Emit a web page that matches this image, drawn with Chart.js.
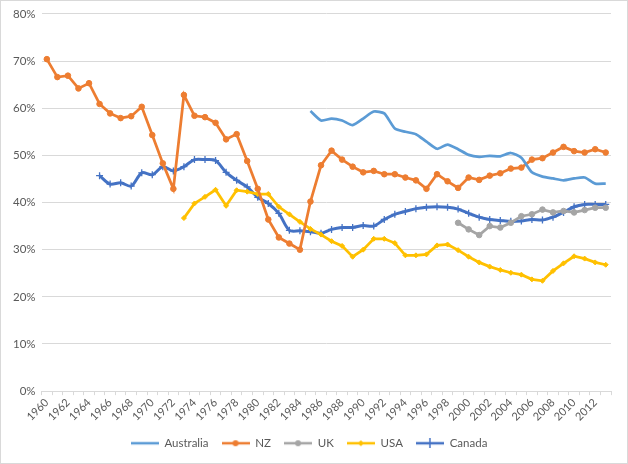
<!DOCTYPE html>
<html>
<head>
<meta charset="utf-8">
<script src="https://cdn.jsdelivr.net/npm/chart.js@4.4.1/dist/chart.umd.min.js"></script>
<style>
  body { margin: 0; background: #fff; }
  #wrap { width: 626px; height: 462px; border: 1px solid #d9d9d9; position: relative; }
</style>
</head>
<body>
<div id="wrap"><canvas id="myChart" width="626" height="462"></canvas></div>
<script>
const years = []
for (let y = 1960; y <= 2013; y++) years.push(String(y))

const australia = [
  null, null, null, null, null, null, null, null, null, null,
  null, null, null, null, null, null, null, null, null, null,
  null, null, null, null, null,
  59.4, 57.4, 57.8, 57.4, 56.4, 57.8, 59.3, 58.9, 55.7, 55.0,
  54.5, 52.9, 51.4, 52.3, 51.3, 50.1, 49.7, 49.9, 49.8, 50.5,
  49.5, 46.4, 45.5, 45.1, 44.7, 45.1, 45.3, 44.0, 44.0
]
const nz = [
  70.4, 66.6, 66.9, 64.2, 65.3, 60.9, 58.9, 57.9, 58.3, 60.3,
  54.3, 48.3, 42.9, 62.8, 58.4, 58.1, 56.9, 53.4, 54.5, 48.8,
  42.9, 36.4, 32.6, 31.3, 30.0, 40.2, 47.9, 51.0, 49.1, 47.6,
  46.4, 46.7, 46.0, 46.0, 45.3, 44.7, 42.9, 46.0, 44.5, 43.1,
  45.3, 44.8, 45.7, 46.2, 47.2, 47.4, 49.1, 49.4, 50.6, 51.8,
  50.9, 50.6, 51.3, 50.6
]
const uk = [
  null, null, null, null, null, null, null, null, null, null,
  null, null, null, null, null, null, null, null, null, null,
  null, null, null, null, null, null, null, null, null, null,
  null, null, null, null, null, null, null, null, null,
  35.7, 34.3, 33.1, 35.0, 34.7, 35.7, 37.1, 37.5, 38.5, 37.9,
  38.2, 37.9, 38.4, 38.9, 38.9
]
const usa = [
  null, null, null, null, null, null, null, null, null, null,
  null, null, null,
  36.7, 39.8, 41.2, 42.7, 39.3, 42.6, 42.3, 41.8, 41.8, 39.1,
  37.5, 35.9, 34.4, 33.2, 31.8, 30.8, 28.5, 30.0, 32.3, 32.3,
  31.4, 28.8, 28.8, 29.0, 30.9, 31.1, 29.9, 28.5, 27.3, 26.4,
  25.7, 25.1, 24.7, 23.7, 23.4, 25.5, 27.1, 28.6, 28.1, 27.3, 26.8
]
const canada = [
  null, null, null, null, null,
  45.7, 43.9, 44.2, 43.5, 46.3, 45.9, 47.6, 46.7, 47.6, 49.1,
  49.1, 48.9, 46.4, 44.7, 43.3, 41.1, 39.8, 37.7, 34.1, 34.0,
  33.8, 33.5, 34.3, 34.7, 34.7, 35.1, 35.0, 36.4, 37.5, 38.1,
  38.7, 39.0, 39.1, 39.0, 38.6, 37.7, 36.9, 36.4, 36.2, 36.0,
  36.1, 36.4, 36.3, 36.9, 37.9, 39.1, 39.6, 39.6, 39.6
]

const yTicks = [0, 10, 20, 30, 40, 50, 60, 70, 80]

const blueLight = '#5B9BD5'
const orange = '#ED7D31'
const grey = '#A5A5A5'
const yellow = '#FFC000'
const blue = '#4472C4'

// little legend swatches: line with marker in the middle
function swatch(color, marker) {
  const c = document.createElement('canvas')
  c.width = 28
  c.height = 10
  const g = c.getContext('2d')
  g.strokeStyle = color
  g.fillStyle = color
  g.lineWidth = 2.5
  g.beginPath()
  g.moveTo(0, 5)
  g.lineTo(28, 5)
  g.stroke()
  g.lineWidth = 1.5
  if (marker === 'circle') {
    g.beginPath()
    g.arc(14, 5, 3, 0, Math.PI * 2)
    g.fill()
  } else if (marker === 'diamond') {
    g.beginPath()
    g.moveTo(14, 2); g.lineTo(17, 5); g.lineTo(14, 8); g.lineTo(11, 5)
    g.closePath()
    g.fill()
  } else if (marker === 'cross') {
    g.beginPath()
    g.moveTo(14, 0); g.lineTo(14, 10)
    g.stroke()
  }
  return c
}

const ctx = document.querySelector('#myChart')
const chart = new Chart(ctx, {
  type: 'line',
  data: {
    labels: years,
    datasets: [
      {
        label: 'Australia', data: australia, borderColor: blueLight, backgroundColor: blueLight,
        borderWidth: 2.75, pointRadius: 0, tension: 0.2, legendImg: swatch(blueLight, 'none')
      },
      {
        label: 'NZ', data: nz, borderColor: orange, backgroundColor: orange,
        borderWidth: 2.75, pointRadius: 2.8, pointBorderWidth: 1, pointStyle: 'circle', tension: 0,
        legendImg: swatch(orange, 'circle')
      },
      {
        label: 'UK', data: uk, borderColor: grey, backgroundColor: grey,
        borderWidth: 2.75, pointRadius: 2.8, pointBorderWidth: 1, pointStyle: 'circle', tension: 0,
        legendImg: swatch(grey, 'circle')
      },
      {
        label: 'USA', data: usa, borderColor: yellow, backgroundColor: yellow,
        borderWidth: 2.75, pointRadius: 2.5, pointBorderWidth: 1, pointStyle: 'rectRot', tension: 0,
        legendImg: swatch(yellow, 'diamond')
      },
      {
        label: 'Canada', data: canada, borderColor: blue, backgroundColor: blue,
        borderWidth: 3, pointRadius: 3.5, pointStyle: 'cross', pointBorderWidth: 1.3, tension: 0.3,
        legendImg: swatch(blue, 'cross')
      }
    ]
  },
  options: {
    responsive: false,
    animation: false,
    spanGaps: false,
    layout: { padding: { left: 6, right: 16, top: 9, bottom: 4 } },
    plugins: {
      legend: {
        position: 'bottom',
        labels: {
          usePointStyle: true,
          pointStyleWidth: 28,
          boxHeight: 10,
          color: '#595959',
          font: { family: 'Lato', size: 11.5 },
          padding: 13,
          generateLabels: (chart) => chart.data.datasets.map((ds, i) => ({
            text: ds.label,
            pointStyle: ds.legendImg,
            fontColor: '#595959',
            datasetIndex: i,
            hidden: false
          }))
        }
      },
      tooltip: { enabled: false }
    },
    scales: {
      x: {
        offset: true,
        grid: { display: true, drawOnChartArea: false, offset: true, tickLength: 4, color: '#d9d9d9' },
        border: { color: '#d9d9d9' },
        ticks: {
          autoSkip: false,
          maxRotation: 45,
          minRotation: 45,
          padding: 1,
          color: '#595959',
          font: { family: 'Lato', size: 11 },
          callback: (v, i) => (i % 2 === 0 ? years[i] : '')
        }
      },
      y: {
        min: 0,
        max: 80,
        afterBuildTicks: (axis) => { axis.ticks = yTicks.map((v) => ({ value: v })) },
        grid: { color: '#d9d9d9', drawTicks: false },
        border: { display: false },
        ticks: {
          padding: 6,
          color: '#595959',
          font: { family: 'Lato', size: 11.5 },
          callback: (v) => v + '%'
        }
      }
    }
  }
})
</script>
</body>
</html>
